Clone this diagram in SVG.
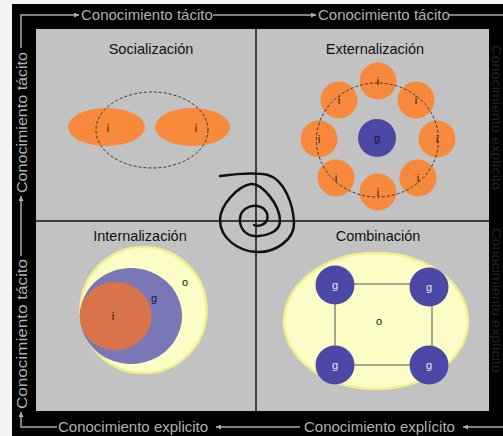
<svg xmlns="http://www.w3.org/2000/svg" width="503" height="436" viewBox="0 0 503 436">
<style>
.frame{fill:none;stroke:#a8a8a8;stroke-width:1.5}
.edge{font-family:"Liberation Sans",Arial,sans-serif;font-size:15px;fill:#b0b0b0}
.faint{font-family:"Liberation Sans",Arial,sans-serif;font-size:12px;fill:#222}
.title{font-family:"Liberation Sans",Arial,sans-serif;font-size:14.5px;fill:#111;text-anchor:middle}
.lbl{font-family:"Liberation Sans",Arial,sans-serif;font-size:11px;fill:#2a1a10;text-anchor:middle}
.orange{fill:#f7893d}
.blue{fill:#4c49a6}
.dash{fill:none;stroke:#333;stroke-width:1;stroke-dasharray:3 2}
.yellow{fill:#fcfcc6;stroke:#f0f090;stroke-width:2.5}
.div{stroke:#111;stroke-width:1.5}
</style>
<defs>
<marker id="ah" viewBox="0 0 10 10" refX="10" refY="5" markerWidth="5" markerHeight="5" orient="auto" markerUnits="userSpaceOnUse">
<path d="M0,0 L10,5 L0,10 z" fill="#b0b0b0"/>
</marker>
</defs>
<rect x="0" y="0" width="503" height="436" fill="#f4f4f4"/>
<rect x="12" y="4" width="491" height="432" fill="#000"/>
<rect x="36" y="29" width="453" height="382" fill="#c2c2c2"/>
<g id="dividers">
<line class="div" x1="256" y1="29" x2="256" y2="411"/>
<line class="div" x1="36" y1="221" x2="489" y2="221"/>
</g>
<g id="connectors">
<path class="frame" d="M21,48 V15 H79" marker-end="url(#ah)"/>
<path class="frame" d="M213,15 H316" marker-end="url(#ah)"/>
<path class="frame" d="M448,15 H503"/>
<path class="frame" d="M503,427 H463" marker-end="url(#ah)"/>
<path class="frame" d="M300,427 H216" marker-end="url(#ah)"/>
<path class="frame" d="M57,427 H21 V412" marker-end="url(#ah)"/>
<path class="frame" d="M21,256 V196" marker-end="url(#ah)"/>
</g>
<g id="frame-labels">
<text class="edge" x="81" y="20">Conocimiento tácito</text>
<text class="edge" x="318" y="20">Conocimiento tácito</text>
<text class="edge" x="58" y="432">Conocimiento explicito</text>
<text class="edge" x="304" y="432">Conocimiento explícito</text>
<text class="edge" transform="translate(26.5,193) rotate(-90)" textLength="141" lengthAdjust="spacingAndGlyphs">Conocimiento tácito</text>
<text class="edge" transform="translate(26.5,409) rotate(-90)" textLength="150" lengthAdjust="spacingAndGlyphs">Conocimiento tácito</text>
<text class="faint" transform="translate(492,45) rotate(90)" textLength="145" lengthAdjust="spacingAndGlyphs">Conocimiento explícito</text>
<text class="faint" transform="translate(492,228) rotate(90)" textLength="145" lengthAdjust="spacingAndGlyphs">Conocimiento explícito</text>
</g>
<g id="socializacion">
<text class="title" x="151" y="54">Socialización</text>
<ellipse class="orange" cx="106.5" cy="127" rx="38.5" ry="19"/>
<ellipse class="orange" cx="192.5" cy="127" rx="37.5" ry="19"/>
<ellipse class="dash" cx="152" cy="130" rx="56" ry="38"/>
<text class="lbl" x="108" y="132">i</text>
<text class="lbl" x="196" y="132">i</text>
</g>
<g id="externalizacion">
<text class="title" x="375" y="54">Externalización</text>
<g class="orange">
<circle cx="378" cy="81" r="18.5"/>
<circle cx="416" cy="100" r="18.5"/>
<circle cx="437" cy="139" r="18.5"/>
<circle cx="418" cy="178" r="18.5"/>
<circle cx="378" cy="192" r="18.5"/>
<circle cx="336" cy="178" r="18.5"/>
<circle cx="319" cy="139" r="18.5"/>
<circle cx="339" cy="100" r="18.5"/>
</g>
<circle class="blue" cx="377" cy="138" r="19"/>
<ellipse class="dash" cx="377.5" cy="140" rx="61" ry="57"/>
<text class="lbl" x="378" y="85">i</text>
<text class="lbl" x="416" y="104">i</text>
<text class="lbl" x="437" y="143">i</text>
<text class="lbl" x="418" y="182">i</text>
<text class="lbl" x="378" y="196">i</text>
<text class="lbl" x="336" y="182">i</text>
<text class="lbl" x="319" y="143">i</text>
<text class="lbl" x="339" y="104">i</text>
<text class="lbl" x="377" y="142" style="fill:#15153a">g</text>
</g>
<g id="internalizacion">
<text class="title" x="140" y="241">Internalización</text>
<circle class="yellow" cx="143.5" cy="310" r="63"/>
<ellipse cx="131" cy="316" rx="51" ry="48" fill="#7a77b6"/>
<ellipse cx="115.5" cy="316" rx="36" ry="34" fill="#d9744a"/>
<text class="lbl" x="113" y="320">i</text>
<text class="lbl" x="154" y="302" style="fill:#15153a">g</text>
<text class="lbl" x="185" y="286" style="fill:#111">o</text>
</g>
<g id="combinacion">
<text class="title" x="378" y="241">Combinación</text>
<ellipse class="yellow" cx="376" cy="321" rx="92" ry="68"/>
<path d="M335,284 H432 V365 H335 Z" fill="none" stroke="#555" stroke-width="1"/>
<g class="blue">
<circle cx="335" cy="285" r="19.5"/>
<circle cx="429" cy="287" r="19.5"/>
<circle cx="335" cy="365" r="19.5"/>
<circle cx="429" cy="365" r="19.5"/>
</g>
<text class="lbl" x="335" y="289" style="fill:#e8e8f0">g</text>
<text class="lbl" x="429" y="291" style="fill:#e8e8f0">g</text>
<text class="lbl" x="335" y="369" style="fill:#e8e8f0">g</text>
<text class="lbl" x="429" y="369" style="fill:#e8e8f0">g</text>
<text class="lbl" x="379" y="325" style="fill:#111">o</text>
</g>
<g id="spiral">
<path d="M220,176 C235,174 255,172 268,175 C285,180 293,205 294,222 C295,240 275,253 256,252 C238,251 220,238 220,220 C220,205 238,186 251,184 C262,183 280,205 280,221 C280,232 265,237 254,236 C244,235 239,226 240,218 C241,209 250,205 257,206 C265,207 269,214 267,220 C265,225 258,227 254,225" fill="none" stroke="#111" stroke-width="2.5" stroke-linecap="round"/>
</g>
</svg>
